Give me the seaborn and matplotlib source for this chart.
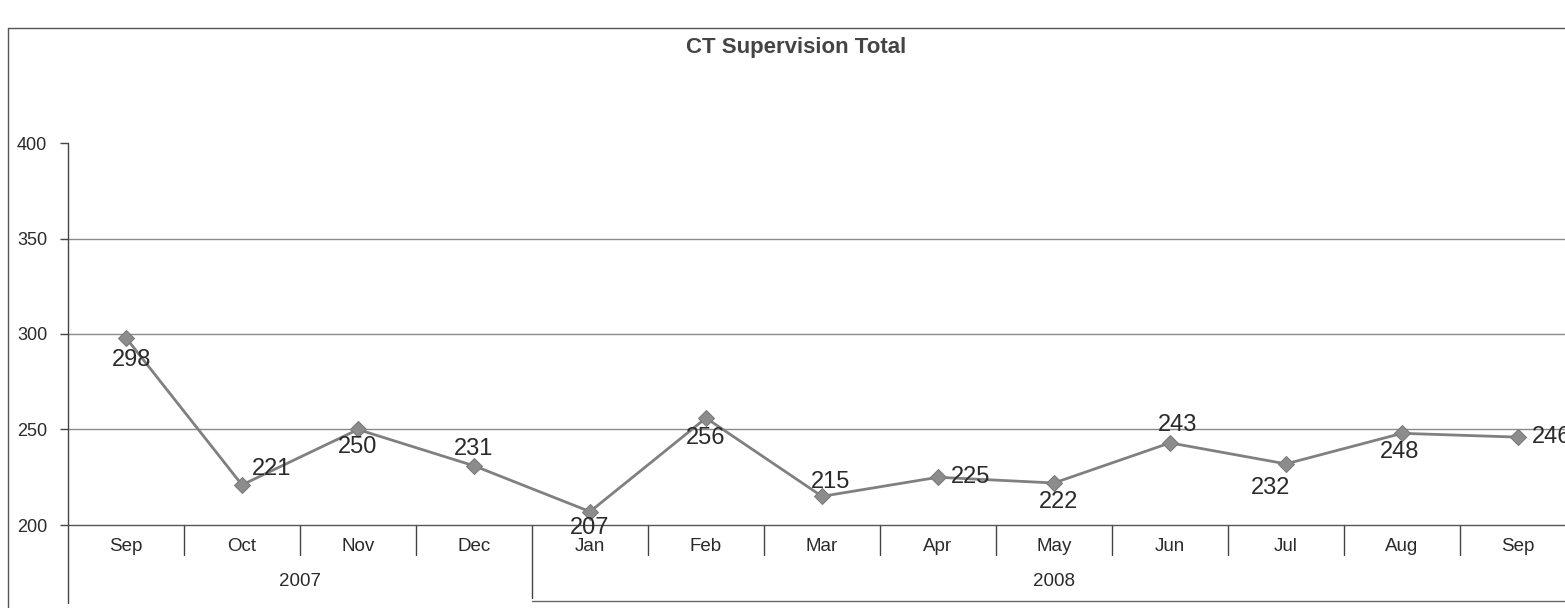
import matplotlib
matplotlib.use("Agg")
import matplotlib.pyplot as plt
import matplotlib.transforms as mtransforms
import pandas as pd
import seaborn as sns

title = 'CT Supervision Total'
months = ['Sep', 'Oct', 'Nov', 'Dec', 'Jan', 'Feb', 'Mar', 'Apr', 'May',
          'Jun', 'Jul', 'Aug', 'Sep']
years = ['2007', '2008']
year_counts = [4, 9]
totals = [298, 221, 250, 231, 207, 256, 215, 225, 222, 243, 232, 248, 246]
y_ticks = [200, 250, 300, 350, 400]

# where each data label sits relative to its point (pixels, up is positive)
label_offsets = [(6, -22), (30, 16), (0, -18), (0, 17), (0, -16), (0, -20),
                 (9, 14), (33, 0), (5, -19), (8, 18), (-15, -24), (-2, -19),
                 (34, 0)]

W, H = 1565, 608
text_col = '#2a2a2a'

if __name__ == '__main__':
    sns.set_style('white')
    plt.rcParams['font.family'] = ['Liberation Sans', 'DejaVu Sans']

    df = pd.DataFrame({'pos': range(len(months)), 'month': months,
                       'total': totals})

    fig = plt.figure(figsize=(W / 100, H / 100), dpi=100)
    fig.patch.set_facecolor('white')
    ax = fig.add_axes([68 / W, (H - 525) / H, (1576 - 68) / W, (525 - 143) / H])

    ax.set_ylim(200, 400)
    ax.set_xlim(-0.5, len(months) - 0.5)
    for g in [250, 300, 350]:
        ax.axhline(g, color='#8a8a8a', lw=1.0, zorder=0)

    sns.lineplot(data=df, x='pos', y='total', ax=ax, color='#808080',
                 linewidth=2.0, marker='D', markersize=8.5,
                 markerfacecolor='#8c8c8c', markeredgecolor='#7a7a7a',
                 zorder=3)

    for i, v in enumerate(totals):
        dx, dy = label_offsets[i]
        ax.annotate(str(v), (i, v), xytext=(dx, dy), textcoords='offset pixels',
                    ha='center', va='center', fontsize=17, color=text_col,
                    zorder=4, annotation_clip=False)

    # y axis
    ax.set_yticks(y_ticks)
    ax.set_yticklabels([str(t) for t in y_ticks], fontsize=13, color=text_col)
    ax.tick_params(axis='y', direction='out', length=6, width=1,
                   color='#444444', pad=9, left=True)
    ax.set_xticks([])
    ax.set_xlabel('')
    ax.set_ylabel('')
    for s in ['top', 'right', 'left']:
        ax.spines[s].set_visible(False)
    ax.spines['bottom'].set_color('#555555')
    ax.spines['bottom'].set_linewidth(1.0)

    # two-level category axis
    bt = mtransforms.blended_transform_factory(ax.transData, ax.transAxes)
    ax.plot([0, 0], [1, -0.204], transform=ax.transAxes, color='#444444',
            lw=1.0, clip_on=False)
    for i, m in enumerate(months):
        ax.text(i, -0.056, m, transform=bt, ha='center', va='center',
                fontsize=13.5, color=text_col)
    start = 0
    for k, (yr, n) in enumerate(zip(years, year_counts)):
        ax.text(start + (n - 1) / 2, -0.149, yr, transform=bt, ha='center',
                va='center', fontsize=13.5, color=text_col)
        for j in range(1, n):
            x = start + j - 0.5
            ax.plot([x, x], [0, -0.079], transform=bt, color='#444444',
                    lw=1.0, clip_on=False)
        start += n
        if k < len(years) - 1:
            x = start - 0.5
            ax.plot([x, x], [0, -0.191], transform=bt, color='#444444',
                    lw=1.0, clip_on=False)
    ax.plot([year_counts[0] - 0.5, len(months)], [-0.2, -0.2], transform=bt,
            color='#666666', lw=1.0, clip_on=False)

    # chart border
    fig.add_artist(plt.Line2D([8 / W, 1], [1 - 28 / H, 1 - 28 / H],
                              color='#555555', lw=1.0))
    fig.add_artist(plt.Line2D([8 / W, 8 / W], [1 - 28 / H, 0],
                              color='#555555', lw=1.0))

    fig.text(796 / W, 1 - 48 / H, title, ha='center', va='center',
             fontsize=16, fontweight='bold', color='#444444')

    plt.savefig('out.png', dpi=100)
